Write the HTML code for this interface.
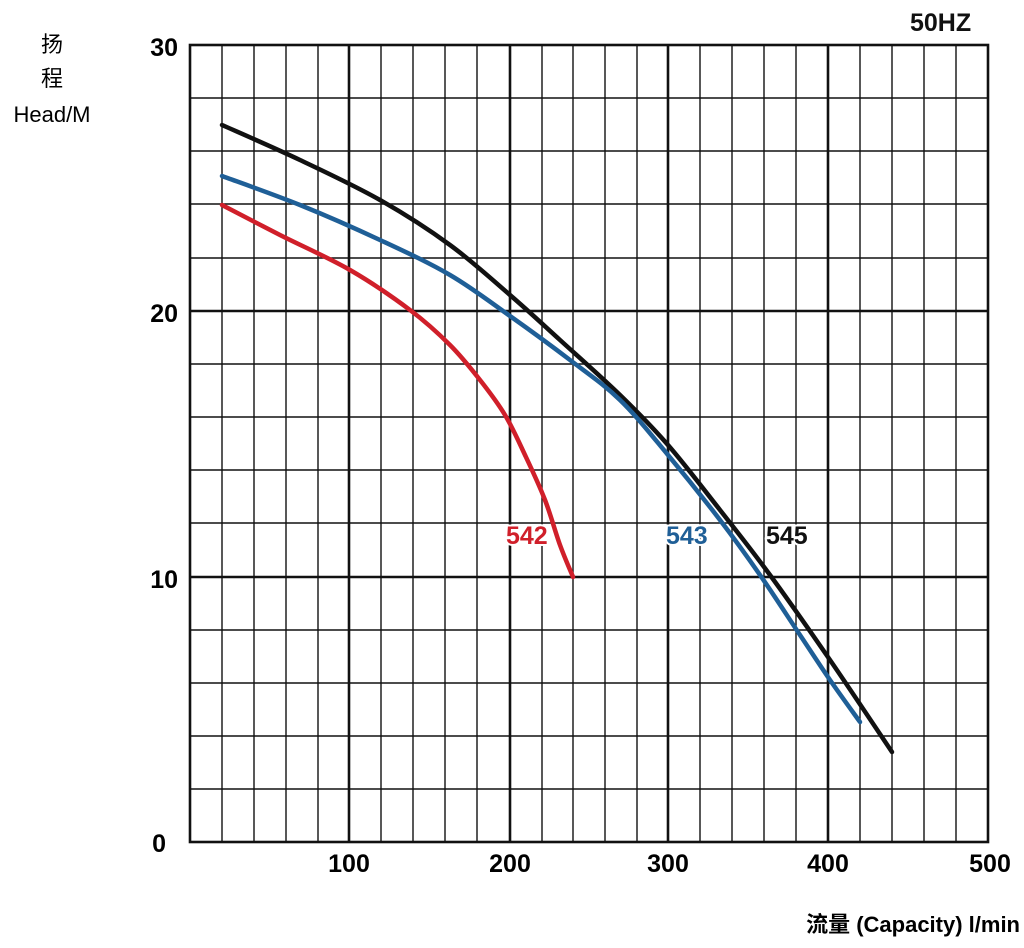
<!DOCTYPE html>
<html><head><meta charset="utf-8"><style>
body{margin:0;background:#fff;}
svg{display:block}
text{font-family:"Liberation Sans","Noto Sans CJK SC",sans-serif;font-weight:bold}
</style></head><body>
<svg id="s" width="1024" height="948" viewBox="0 0 1024 948" xmlns="http://www.w3.org/2000/svg">
<g stroke="#111" fill="none">
<g stroke-width="1.4">
<line x1="222" y1="45" x2="222" y2="842"/><line x1="254" y1="45" x2="254" y2="842"/><line x1="286" y1="45" x2="286" y2="842"/><line x1="318" y1="45" x2="318" y2="842"/>
<line x1="381" y1="45" x2="381" y2="842"/><line x1="413" y1="45" x2="413" y2="842"/><line x1="445" y1="45" x2="445" y2="842"/><line x1="477" y1="45" x2="477" y2="842"/>
<line x1="542" y1="45" x2="542" y2="842"/><line x1="573" y1="45" x2="573" y2="842"/><line x1="605" y1="45" x2="605" y2="842"/><line x1="637" y1="45" x2="637" y2="842"/>
<line x1="700" y1="45" x2="700" y2="842"/><line x1="732" y1="45" x2="732" y2="842"/><line x1="764" y1="45" x2="764" y2="842"/><line x1="796" y1="45" x2="796" y2="842"/>
<line x1="860" y1="45" x2="860" y2="842"/><line x1="892" y1="45" x2="892" y2="842"/><line x1="924" y1="45" x2="924" y2="842"/><line x1="956" y1="45" x2="956" y2="842"/>
<line x1="190" y1="98" x2="988" y2="98"/><line x1="190" y1="151" x2="988" y2="151"/><line x1="190" y1="204" x2="988" y2="204"/><line x1="190" y1="258" x2="988" y2="258"/>
<line x1="190" y1="364" x2="988" y2="364"/><line x1="190" y1="417" x2="988" y2="417"/><line x1="190" y1="470" x2="988" y2="470"/><line x1="190" y1="523" x2="988" y2="523"/>
<line x1="190" y1="630" x2="988" y2="630"/><line x1="190" y1="683" x2="988" y2="683"/><line x1="190" y1="736" x2="988" y2="736"/><line x1="190" y1="789" x2="988" y2="789"/>
</g>
<g stroke-width="2.6">
<line x1="349" y1="45" x2="349" y2="842"/><line x1="510" y1="45" x2="510" y2="842"/><line x1="668" y1="45" x2="668" y2="842"/><line x1="828" y1="45" x2="828" y2="842"/>
<line x1="190" y1="311" x2="988" y2="311"/><line x1="190" y1="577" x2="988" y2="577"/>
<rect x="190" y="45" width="798" height="797"/>
</g>
</g>
<g fill="none" stroke-width="4.5" stroke-linejoin="round" stroke-linecap="round">
<path id="k" stroke="#111" d=""/>
<path id="b" stroke="#1f5f97" d=""/>
<path id="r" stroke="#d01f2a" d=""/>
</g>
<g font-size="25" stroke="#fff" stroke-width="4" paint-order="stroke">
<text x="506" y="544" fill="#d01f2a">542</text>
<text x="666" y="544" fill="#1f5f97">543</text>
<text x="766" y="544" fill="#111">545</text>
</g>
<g font-size="25">
<text x="910" y="31" fill="#111">50HZ</text>
<text x="178" y="56" text-anchor="end">30</text>
<text x="178" y="322" text-anchor="end">20</text>
<text x="178" y="588" text-anchor="end">10</text>
<text x="166" y="852" text-anchor="end">0</text>
<text x="349" y="872" text-anchor="middle">100</text>
<text x="510" y="872" text-anchor="middle">200</text>
<text x="668" y="872" text-anchor="middle">300</text>
<text x="828" y="872" text-anchor="middle">400</text>
<text x="990" y="872" text-anchor="middle">500</text>
</g>
<g font-size="22">
<text x="52" y="52" text-anchor="middle" style="font-weight:normal">扬</text>
<text x="52" y="86" text-anchor="middle" style="font-weight:normal">程</text>
<text x="52" y="122" text-anchor="middle" style="font-weight:normal">Head/M</text>
<text x="1020" y="932" text-anchor="end">流量 (Capacity)  l/min</text>
</g>
</svg>
<script>
function cr(p){var d="M"+p[0][0]+","+p[0][1];for(var i=0;i<p.length-1;i++){var a=p[i-1]||p[i],b=p[i],c=p[i+1],e=p[i+2]||c;
d+=" C"+(b[0]+(c[0]-a[0])/6)+","+(b[1]+(c[1]-a[1])/6)+" "+(c[0]-(e[0]-b[0])/6)+","+(c[1]-(e[1]-b[1])/6)+" "+c[0]+","+c[1];}return d;}
document.getElementById("k").setAttribute("d",cr([[222,125],[300,160],[380,200],[450,245],[510,295],[560,340],[620,395],[668,445],[720,510],[770,575],[830,660],[892,752]]));
document.getElementById("b").setAttribute("d",cr([[222,176],[300,205],[380,240],[450,275],[510,316],[570,360],[620,400],[668,455],[720,520],[760,575],[800,635],[830,680],[860,722]]));
document.getElementById("r").setAttribute("d",cr([[222,205],[280,235],[350,270],[410,310],[450,345],[480,380],[505,415],[525,455],[545,500],[560,545],[573,577]]));
</script>
</body></html>
